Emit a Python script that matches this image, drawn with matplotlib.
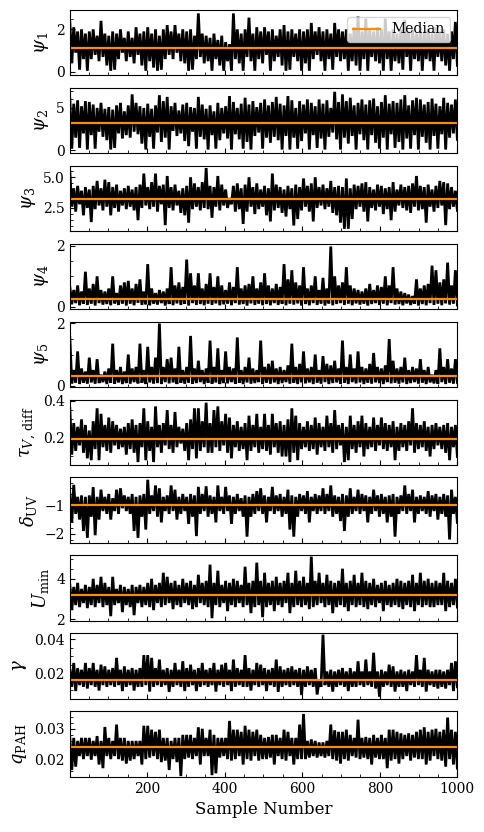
"""Trace plot of 1000 posterior samples for ten SED model parameters.

每个面板：黑色 = 采样链，橙色 = 中位数。
"""

import numpy as np
import matplotlib

matplotlib.use("Agg")
import matplotlib.pyplot as plt
from matplotlib.ticker import AutoMinorLocator

plt.rcParams["font.family"] = "serif"
plt.rcParams["font.serif"] = ["DejaVu Serif"]
plt.rcParams["mathtext.fontset"] = "dejavuserif"

# ---- data (chain values alternate upper / lower envelope) ----
psi1 = [
    2.35, 0.4, 2.1, 0.9, 1.9, 0.1, 2.0, 0.6, 1.8, 0.05,
    1.9, 0.6, 2.0, 0.8, 1.7, 0.5, 2.4, 0.7, 1.8, 0.3,
    1.7, 0.05, 1.9, 0.1, 1.8, 0.6, 2.0, 0.9, 1.6, 0.5,
    1.9, 0.7, 1.6, 0.4, 2.1, 0.8, 1.8, 0.3, 1.9, 0.05,
    2.1, 0.5, 1.8, 0.2, 2.0, 0.05, 1.7, 0.1, 2.0, 0.6,
    2.2, 0.8, 1.9, 0.6, 2.2, 0.9, 1.8, 0.5, 2.0, 0.4,
    1.9, 0.05, 2.0, 0.1, 1.7, 0.6, 2.75, 0.7, 1.8, 0.4,
    1.7, 0.5, 1.6, 0.05, 1.8, 0.6, 1.5, 0.3, 1.7, 0.05,
    1.4, 0.5, 1.3, 0.05, 2.75, 0.6, 2.0, 0.4, 1.8, 0.05,
    2.0, 0.7, 2.55, 0.5, 1.8, 0.05, 2.1, 0.6, 1.9, 0.4,
    2.1, 0.8, 1.9, 0.05, 2.0, 0.5, 1.7, 0.7, 2.0, 0.3,
    2.2, 0.05, 1.9, 0.1, 2.0, 0.7, 1.8, 0.5, 2.0, 0.05,
    1.9, 0.4, 2.0, 0.05, 2.3, 0.6, 1.9, 0.8, 2.1, 0.5,
    1.9, 0.05, 2.0, 0.6, 1.8, 0.1, 2.3, 0.7, 2.0, 0.5,
    1.9, 0.6, 2.0, 0.05, 1.8, 0.5, 2.1, 0.3, 2.6, 0.05,
    1.9, 0.6, 2.5, 0.05, 2.0, 0.7, 1.9, 0.5, 2.1, 0.4,
    2.0, 0.05, 2.5, 0.6, 1.9, 0.05, 2.0, 0.5, 1.8, 0.4,
    2.0, 0.1, 2.45, 0.7, 1.9, 0.05, 2.0, 0.6, 1.8, 0.5,
    2.1, 0.05, 1.9, 0.6, 2.0, 0.5, 1.8, 0.05, 2.1, 0.7,
    1.9, 0.5, 2.0, 0.3, 1.8, 0.05, 1.9, 0.6, 2.35, 0.3,
]
psi2 = [
    6.1, 0.2, 5.5, 1.5, 5.9, 0.3, 5.2, 2.0, 5.8, 0.1,
    5.7, 1.8, 5.4, 0.2, 5.0, 2.2, 5.6, 1.6, 4.9, 1.2,
    5.1, 0.1, 4.8, 0.3, 5.3, 2.0, 5.6, 1.4, 4.6, 1.8,
    5.3, 1.5, 6.6, 2.2, 5.6, 1.9, 5.2, 0.8, 5.0, 0.1,
    5.5, 1.6, 4.9, 0.2, 5.3, 2.1, 6.5, 1.0, 5.8, 1.5,
    6.3, 0.1, 5.2, 2.3, 5.6, 1.7, 4.7, 2.0, 5.4, 1.1,
    5.6, 0.5, 5.1, 2.2, 5.0, 0.2, 6.3, 1.6, 5.4, 1.3,
    4.9, 0.1, 5.3, 1.8, 4.6, 0.2, 5.6, 1.2, 5.0, 2.0,
    5.2, 1.4, 6.4, 0.1, 5.7, 1.9, 5.0, 1.3, 5.5, 0.2,
    6.2, 1.0, 5.4, 0.1, 5.8, 1.7, 5.1, 2.1, 5.6, 0.2,
    6.0, 1.5, 5.3, 0.9, 5.7, 1.6, 6.3, 1.2, 5.5, 0.1,
    5.3, 1.7, 6.4, 0.1, 5.9, 1.5, 5.0, 0.2, 5.8, 1.1,
    5.4, 2.0, 6.0, 0.1, 5.6, 1.8, 5.2, 0.3, 6.0, 1.4,
    5.5, 0.1, 5.9, 1.6, 5.0, 2.1, 6.9, 1.3, 5.7, 0.1,
    6.6, 1.5, 5.8, 0.8, 6.2, 1.7, 5.3, 0.1, 5.6, 1.9,
    6.0, 1.2, 5.4, 0.1, 5.9, 1.8, 6.1, 0.9, 5.2, 0.2,
    5.7, 1.5, 6.5, 0.1, 5.5, 1.9, 5.8, 0.3, 5.6, 1.0,
    6.0, 0.1, 6.5, 1.4, 5.3, 0.2, 5.9, 1.8, 6.2, 0.1,
    6.0, 1.6, 5.4, 0.9, 5.7, 0.1, 6.1, 1.7, 5.5, 0.2,
    5.2, 1.9, 6.2, 0.1, 5.6, 1.5, 5.4, 2.0, 6.0, 1.3,
]
psi3 = [
    5.45, 2.6, 4.1, 2.2, 4.3, 2.8, 3.9, 1.9, 4.2, 2.5,
    4.0, 1.35, 4.3, 2.4, 4.7, 2.7, 4.1, 2.3, 4.8, 2.6,
    4.6, 1.9, 4.2, 2.5, 4.4, 2.2, 3.9, 2.7, 4.1, 2.4,
    4.3, 2.6, 4.0, 2.3, 4.2, 1.5, 4.4, 2.5, 5.3, 2.7,
    4.2, 2.4, 4.6, 2.6, 5.3, 2.2, 4.3, 2.8, 4.4, 1.1,
    5.1, 2.5, 4.2, 2.3, 4.4, 2.7, 3.9, 2.1, 4.1, 1.9,
    4.3, 1.3, 5.0, 2.4, 4.5, 2.6, 4.2, 2.3, 4.6, 2.5,
    5.75, 2.4, 4.3, 1.7, 4.2, 2.6, 5.1, 2.3, 4.4, 2.7,
    4.0, 2.5, 3.3, 2.8, 4.3, 2.2, 4.5, 2.4, 4.1, 1.2,
    4.4, 2.2, 5.0, 2.6, 4.2, 2.0, 4.5, 2.4, 4.0, 2.6,
    4.3, 1.9, 4.1, 1.4, 5.3, 2.3, 4.4, 2.5, 4.2, 2.1,
    4.0, 1.8, 4.3, 2.4, 4.1, 1.07, 4.4, 1.6, 4.2, 2.3,
    4.9, 2.6, 4.3, 2.2, 4.5, 1.4, 5.0, 2.5, 4.2, 2.7,
    4.4, 2.4, 4.1, 2.6, 4.7, 2.1, 4.2, 1.9, 4.3, 1.3,
    4.2, 0.8, 4.9, 0.8, 4.1, 1.6, 4.4, 2.4, 4.3, 2.6,
    4.5, 2.2, 4.6, 1.4, 4.2, 2.5, 4.0, 2.3, 4.4, 2.6,
    4.3, 2.0, 4.1, 2.4, 4.2, 1.5, 4.6, 2.2, 4.0, 2.7,
    4.4, 2.5, 4.2, 2.3, 4.3, 2.1, 4.5, 2.6, 5.1, 2.3,
    4.3, 2.4, 4.2, 1.3, 4.4, 2.6, 4.0, 2.2, 4.3, 2.5,
    4.7, 2.7, 4.6, 1.1, 4.5, 2.4, 4.2, 2.6, 3.9, 2.3,
]
psi4 = [
    0.65, 0.08, 0.55, 0.12, 0.7, 0.05, 0.5, 0.1, 1.15, 0.06,
    0.6, 0.1, 0.75, 0.04, 1.0, 0.12, 0.55, 0.07, 0.5, 0.09,
    0.6, 0.05, 1.0, 0.11, 0.45, 0.06, 0.7, 0.1, 0.8, 0.04,
    0.85, 0.1, 0.6, 0.05, 0.75, 0.13, 0.9, 0.06, 0.5, 0.08,
    1.4, 0.05, 0.6, 0.1, 0.45, 0.07, 0.55, 0.12, 0.5, 0.04,
    0.6, 0.09, 1.3, 0.05, 0.7, 0.11, 0.8, 0.06, 0.65, 0.1,
    1.55, 0.04, 1.1, 0.12, 0.7, 0.06, 1.1, 0.09, 0.6, 0.05,
    0.75, 0.1, 1.1, 0.06, 0.65, 0.11, 1.0, 0.05, 0.7, 0.08,
    0.55, 0.1, 0.8, 0.05, 0.65, 0.12, 1.3, 0.07, 0.6, 0.09,
    0.7, 0.04, 0.75, 0.11, 1.0, 0.06, 0.6, 0.1, 0.8, 0.05,
    1.1, 0.09, 0.7, 0.05, 0.6, 0.12, 0.75, 0.06, 0.65, 0.1,
    1.4, 0.05, 0.9, 0.1, 1.2, 0.07, 0.8, 0.11, 0.7, 0.04,
    1.3, 0.09, 0.6, 0.05, 0.7, 0.12, 1.0, 0.06, 0.55, 0.1,
    0.95, 0.04, 0.6, 0.11, 1.98, 0.05, 1.0, 0.09, 0.7, 0.12,
    0.8, 0.06, 1.3, 0.1, 0.7, 0.05, 0.6, 0.11, 0.55, 0.07,
    0.5, 0.1, 0.6, 0.04, 0.75, 0.09, 0.55, 0.12, 0.7, 0.06,
    0.65, 0.1, 1.0, 0.05, 0.7, 0.12, 1.3, 0.07, 0.6, 0.09,
    0.5, 0.05, 0.45, 0.11, 0.4, 0.06, 0.35, 0.1, 0.9, 0.04,
    0.6, 0.09, 0.7, 0.05, 0.75, 0.12, 1.35, 0.06, 1.2, 0.1,
    0.8, 0.05, 0.9, 0.11, 1.45, 0.07, 0.7, 0.1, 1.2, 0.06,
]
psi5 = [
    1.55, 0.07, 0.5, 0.1, 1.1, 0.05, 0.55, 0.09, 0.45, 0.06,
    0.9, 0.1, 0.5, 0.06, 0.85, 0.08, 0.35, 0.11, 0.45, 0.05,
    0.55, 0.09, 1.35, 0.06, 0.5, 0.1, 0.6, 0.05, 0.45, 0.08,
    1.0, 0.06, 0.55, 0.11, 0.6, 0.07, 1.35, 0.09, 0.5, 0.05,
    1.25, 0.1, 0.6, 0.06, 0.9, 0.08, 2.0, 0.05, 0.6, 0.11,
    0.85, 0.07, 0.9, 0.1, 0.55, 0.05, 1.25, 0.09, 0.5, 0.06,
    0.6, 0.1, 1.6, 0.06, 0.55, 0.08, 0.8, 0.11, 0.5, 0.05,
    0.55, 0.09, 1.45, 0.06, 0.6, 0.1, 1.2, 0.05, 0.5, 0.08,
    1.1, 0.07, 0.6, 0.11, 0.55, 0.06, 1.55, 0.09, 0.5, 0.05,
    0.6, 0.1, 0.9, 0.06, 0.55, 0.08, 0.5, 0.11, 1.45, 0.05,
    0.6, 0.09, 0.7, 0.06, 0.8, 0.1, 0.55, 0.05, 0.6, 0.08,
    0.5, 0.11, 0.65, 0.06, 1.35, 0.09, 0.6, 0.05, 0.7, 0.1,
    1.1, 0.07, 0.55, 0.1, 0.6, 0.05, 1.0, 0.09, 0.5, 0.06,
    0.95, 0.11, 0.7, 0.05, 0.65, 0.08, 0.8, 0.1, 0.55, 0.06,
    1.45, 0.09, 0.6, 0.05, 1.0, 0.11, 0.55, 0.07, 1.1, 0.1,
    0.6, 0.05, 0.55, 0.09, 0.7, 0.06, 1.05, 0.1, 0.6, 0.08,
    0.55, 0.05, 0.65, 0.11, 1.5, 0.07, 0.8, 0.09, 0.55, 0.06,
    0.6, 0.1, 0.9, 0.05, 0.5, 0.08, 0.6, 0.11, 0.55, 0.06,
    0.85, 0.09, 0.5, 0.05, 0.6, 0.1, 0.35, 0.07, 0.5, 0.06,
    1.2, 0.11, 0.6, 0.05, 0.85, 0.09, 0.55, 0.06, 0.85, 0.1,
]
tau_v_diff = [
    0.36, 0.11, 0.28, 0.13, 0.26, 0.16, 0.30, 0.12, 0.27, 0.09,
    0.24, 0.08, 0.29, 0.14, 0.36, 0.08, 0.33, 0.15, 0.27, 0.13,
    0.31, 0.12, 0.29, 0.16, 0.27, 0.14, 0.25, 0.15, 0.26, 0.11,
    0.28, 0.14, 0.30, 0.12, 0.27, 0.07, 0.28, 0.15, 0.36, 0.08,
    0.29, 0.13, 0.26, 0.07, 0.37, 0.15, 0.27, 0.12, 0.28, 0.16,
    0.35, 0.14, 0.27, 0.12, 0.34, 0.15, 0.26, 0.17, 0.25, 0.13,
    0.28, 0.08, 0.30, 0.14, 0.36, 0.09, 0.36, 0.13, 0.29, 0.15,
    0.39, 0.12, 0.28, 0.12, 0.35, 0.15, 0.37, 0.13, 0.29, 0.16,
    0.33, 0.12, 0.31, 0.09, 0.27, 0.15, 0.29, 0.13, 0.26, 0.14,
    0.28, 0.08, 0.32, 0.13, 0.27, 0.15, 0.33, 0.12, 0.26, 0.14,
    0.33, 0.13, 0.27, 0.11, 0.33, 0.15, 0.28, 0.12, 0.29, 0.10,
    0.27, 0.10, 0.30, 0.07, 0.36, 0.12, 0.32, 0.08, 0.28, 0.14,
    0.26, 0.15, 0.29, 0.13, 0.27, 0.14, 0.31, 0.11, 0.28, 0.15,
    0.26, 0.13, 0.32, 0.15, 0.28, 0.12, 0.35, 0.14, 0.27, 0.16,
    0.28, 0.07, 0.26, 0.08, 0.32, 0.14, 0.27, 0.12, 0.29, 0.15,
    0.32, 0.10, 0.28, 0.14, 0.26, 0.15, 0.31, 0.13, 0.27, 0.16,
    0.31, 0.14, 0.28, 0.13, 0.27, 0.15, 0.29, 0.08, 0.26, 0.13,
    0.28, 0.15, 0.27, 0.13, 0.29, 0.16, 0.36, 0.12, 0.28, 0.14,
    0.27, 0.15, 0.29, 0.13, 0.26, 0.10, 0.27, 0.14, 0.28, 0.16,
    0.26, 0.14, 0.27, 0.12, 0.28, 0.08, 0.26, 0.15, 0.27, 0.10,
]
delta_uv = [
    -0.6, -1.6, -0.28, -1.3, -0.7, -1.5, -0.65, -1.9, -0.7, -2.14,
    -0.65, -1.4, -0.36, -2.05, -0.7, -1.5, -0.45, -1.2, -0.7, -1.3,
    -0.6, -1.5, -0.75, -1.2, -0.45, -1.3, -0.4, -1.1, -0.65, -1.2,
    -0.7, -1.3, -0.6, -1.9, -0.7, -2.14, -0.65, -1.4, -0.6, -1.85,
    -0.1, -1.3, -0.65, -1.2, -0.3, -1.4, -0.4, -1.6, -0.7, -1.2,
    -0.65, -1.3, -0.3, -1.2, -0.45, -1.5, -0.7, -1.3, -0.6, -1.2,
    -0.7, -1.65, -0.6, -1.4, -0.65, -2.08, -0.35, -1.3, -0.6, -1.2,
    -0.33, -1.4, -0.65, -1.3, -0.7, -1.6, -0.3, -1.2, -0.7, -1.3,
    -0.35, -1.2, -0.65, -1.65, -0.7, -1.3, -0.6, -1.2, -0.75, -1.4,
    -0.65, -2.1, -0.7, -1.4, -0.6, -1.3, -0.5, -1.2, -0.4, -1.3,
    -0.65, -1.6, -0.7, -1.2, -0.35, -1.3, -0.65, -1.2, -0.6, -1.4,
    -0.7, -1.3, -0.45, -1.85, -0.65, -2.1, -0.7, -1.4, -0.6, -1.2,
    -0.65, -1.3, -0.5, -1.6, -0.7, -1.2, -0.6, -1.3, -0.65, -1.2,
    -0.4, -1.3, -0.6, -1.2, -0.3, -1.4, -0.65, -1.3, -0.7, -1.55,
    -0.6, -1.9, -0.65, -1.4, -0.4, -1.3, -0.7, -1.2, -0.45, -1.3,
    -0.6, -1.2, -0.65, -1.6, -0.7, -1.3, -0.45, -1.2, -0.65, -1.4,
    -0.6, -1.3, -0.7, -1.6, -0.65, -1.4, -0.6, -2.1, -0.7, -1.3,
    -0.65, -1.2, -0.3, -1.3, -0.6, -1.2, -0.45, -1.6, -0.7, -1.3,
    -0.65, -1.2, -0.7, -1.3, -0.5, -1.4, -0.65, -1.2, -0.6, -1.5,
    -0.7, -1.3, -0.6, -1.4, -0.65, -2.2, -0.45, -1.3, -0.7, -1.6,
]
u_min = [
    3.7, 2.45, 3.6, 2.7, 3.8, 2.6, 3.5, 2.8, 3.7, 2.55,
    3.6, 2.7, 4.0, 2.6, 3.7, 2.8, 4.1, 2.6, 3.8, 2.7,
    3.6, 2.15, 4.1, 2.7, 3.5, 2.8, 3.7, 2.35, 3.6, 2.7,
    3.5, 2.6, 3.7, 2.2, 3.6, 2.8, 3.7, 2.6, 3.6, 2.7,
    3.8, 2.6, 4.0, 2.45, 3.7, 2.8, 3.8, 2.6, 4.3, 2.7,
    4.1, 2.8, 3.8, 2.5, 3.9, 2.7, 3.7, 2.6, 4.0, 2.8,
    3.8, 2.7, 3.9, 2.5, 3.7, 2.6, 4.2, 2.8, 3.8, 2.7,
    3.9, 2.6, 4.7, 2.05, 3.8, 2.7, 4.4, 2.6, 3.7, 2.8,
    3.9, 2.4, 3.8, 2.7, 4.0, 2.6, 3.9, 2.8, 3.7, 2.6,
    4.6, 2.7, 3.8, 2.3, 3.9, 2.6, 4.8, 2.7, 3.9, 2.1,
    4.3, 2.6, 3.8, 2.7, 3.9, 2.4, 4.1, 2.7, 3.8, 2.6,
    3.9, 2.8, 4.3, 2.3, 3.8, 2.6, 4.4, 2.7, 3.9, 2.6,
    4.1, 2.7, 3.8, 2.5, 5.1, 2.6, 3.9, 2.7, 4.3, 2.8,
    3.8, 2.6, 4.2, 2.7, 3.9, 2.3, 3.8, 2.6, 3.9, 2.7,
    4.5, 2.6, 3.8, 2.4, 3.9, 2.7, 4.2, 2.6, 3.8, 2.7,
    4.3, 2.6, 3.9, 2.5, 3.8, 2.7, 4.0, 2.6, 3.7, 2.8,
    3.8, 2.4, 3.9, 2.7, 3.7, 2.6, 3.8, 2.7, 4.0, 2.6,
    3.9, 2.5, 3.8, 2.7, 3.9, 2.6, 4.2, 2.4, 3.8, 2.7,
    4.3, 2.6, 3.9, 2.7, 4.0, 2.6, 3.8, 2.6, 3.9, 2.7,
    3.8, 2.7, 4.3, 2.4, 3.9, 2.6, 3.8, 2.7, 4.0, 2.6,
]
gamma = [
    0.022, 0.012, 0.026, 0.0095, 0.023, 0.013, 0.022, 0.012, 0.026, 0.011,
    0.023, 0.013, 0.026, 0.012, 0.022, 0.0098, 0.025, 0.013, 0.024, 0.012,
    0.022, 0.013, 0.023, 0.012, 0.029, 0.013, 0.022, 0.0095, 0.024, 0.012,
    0.022, 0.013, 0.023, 0.0098, 0.022, 0.012, 0.023, 0.012, 0.0306, 0.013,
    0.0306, 0.0092, 0.029, 0.012, 0.023, 0.013, 0.028, 0.012, 0.022, 0.013,
    0.023, 0.009, 0.022, 0.012, 0.026, 0.013, 0.022, 0.012, 0.027, 0.0095,
    0.023, 0.012, 0.025, 0.013, 0.022, 0.0095, 0.023, 0.012, 0.026, 0.013,
    0.022, 0.012, 0.023, 0.013, 0.026, 0.0092, 0.022, 0.013, 0.025, 0.012,
    0.026, 0.013, 0.022, 0.0095, 0.028, 0.012, 0.023, 0.013, 0.022, 0.012,
    0.0306, 0.012, 0.023, 0.0098, 0.022, 0.013, 0.026, 0.012, 0.025, 0.013,
    0.023, 0.0095, 0.022, 0.013, 0.023, 0.012, 0.028, 0.009, 0.024, 0.012,
    0.022, 0.013, 0.023, 0.012, 0.024, 0.013, 0.022, 0.012, 0.023, 0.0072,
    0.022, 0.012, 0.024, 0.013, 0.022, 0.012, 0.023, 0.0075, 0.016, 0.012,
    0.0426, 0.013, 0.021, 0.012, 0.022, 0.0092, 0.021, 0.012, 0.022, 0.013,
    0.023, 0.012, 0.021, 0.0095, 0.023, 0.012, 0.021, 0.012, 0.027, 0.013,
    0.021, 0.012, 0.028, 0.013, 0.021, 0.012, 0.032, 0.011, 0.021, 0.0062,
    0.022, 0.012, 0.021, 0.013, 0.025, 0.012, 0.024, 0.0092, 0.021, 0.012,
    0.022, 0.012, 0.021, 0.0095, 0.022, 0.013, 0.021, 0.012, 0.0306, 0.013,
    0.022, 0.012, 0.029, 0.0092, 0.022, 0.013, 0.021, 0.012, 0.022, 0.011,
    0.022, 0.012, 0.021, 0.011, 0.022, 0.013, 0.026, 0.0095, 0.027, 0.012,
]
q_pah = [
    0.027, 0.0164, 0.027, 0.0175, 0.026, 0.021, 0.027, 0.020, 0.027, 0.021,
    0.027, 0.0198, 0.026, 0.021, 0.0276, 0.0182, 0.026, 0.017, 0.0306, 0.021,
    0.027, 0.020, 0.026, 0.021, 0.0314, 0.020, 0.027, 0.0195, 0.027, 0.0185,
    0.026, 0.0195, 0.026, 0.020, 0.026, 0.021, 0.026, 0.0182, 0.031, 0.020,
    0.031, 0.0205, 0.0297, 0.021, 0.029, 0.020, 0.0297, 0.019, 0.027, 0.0195,
    0.027, 0.0164, 0.026, 0.020, 0.027, 0.019, 0.027, 0.0144, 0.028, 0.020,
    0.028, 0.0205, 0.028, 0.020, 0.027, 0.021, 0.0305, 0.0182, 0.030, 0.021,
    0.027, 0.021, 0.0297, 0.0147, 0.028, 0.0153, 0.027, 0.0205, 0.027, 0.021,
    0.027, 0.020, 0.0326, 0.0195, 0.0297, 0.020, 0.0297, 0.021, 0.029, 0.0182,
    0.031, 0.020, 0.0297, 0.0195, 0.029, 0.021, 0.0297, 0.0195, 0.028, 0.020,
    0.027, 0.020, 0.0273, 0.0205, 0.028, 0.0182, 0.028, 0.021, 0.027, 0.020,
    0.0297, 0.0195, 0.029, 0.021, 0.027, 0.0182, 0.027, 0.020, 0.0314, 0.020,
    0.0349, 0.020, 0.026, 0.0205, 0.0265, 0.021, 0.026, 0.0205, 0.0255, 0.021,
    0.0255, 0.0205, 0.026, 0.021, 0.0314, 0.020, 0.0295, 0.0195, 0.029, 0.0185,
    0.029, 0.020, 0.0297, 0.0195, 0.028, 0.021, 0.027, 0.0205, 0.033, 0.020,
    0.027, 0.0205, 0.0273, 0.020, 0.027, 0.0182, 0.028, 0.0205, 0.027, 0.020,
    0.028, 0.020, 0.027, 0.017, 0.0297, 0.0195, 0.0297, 0.020, 0.029, 0.0185,
    0.0285, 0.020, 0.028, 0.021, 0.0285, 0.0195, 0.028, 0.0205, 0.029, 0.020,
    0.0297, 0.020, 0.0305, 0.0182, 0.029, 0.0195, 0.0297, 0.021, 0.030, 0.020,
    0.029, 0.0195, 0.0297, 0.0175, 0.0337, 0.020, 0.0297, 0.0182, 0.029, 0.017,
]

chains = [psi1, psi2, psi3, psi4, psi5, tau_v_diff, delta_uv, u_min, gamma, q_pah]
param_labels = [
    r"$\psi_1$", r"$\psi_2$", r"$\psi_3$", r"$\psi_4$", r"$\psi_5$",
    r"$\tau_{V,\,\rm diff}$", r"$\delta_{\rm UV}$", r"$U_{\rm min}$",
    r"$\gamma$", r"$q_{\rm PAH}$",
]
medians = [1.13, 3.2, 3.24, 0.27, 0.30, 0.195, -0.98, 3.18, 0.0158, 0.0239]
ytick_vals = [
    [0, 2], [0, 5], [2.5, 5.0], [0, 2], [0, 2],
    [0.2, 0.4], [-2, -1], [2, 4], [0.02, 0.04], [0.02, 0.03],
]
y_ranges = [
    (-0.17, 2.91), (-0.35, 7.36), (0.6, 5.93), (-0.08, 2.07), (-0.05, 2.06),
    (0.054, 0.407), (-2.32, -0.02), (1.92, 5.16), (0.005, 0.0434), (0.0142, 0.0358),
]
n_samples = 1000


def main():
    fig, axes = plt.subplots(len(chains), 1, figsize=(4.85, 8.32), dpi=100, sharex=True)
    fig.subplots_adjust(left=0.144, right=0.943, top=0.988, bottom=0.0665, hspace=0.19)

    for i, ax in enumerate(axes):
        vals = chains[i]
        x = np.linspace(1, n_samples, len(vals))
        ax.plot(x, vals, color="black", lw=2.0, solid_joinstyle="bevel")
        ax.axhline(medians[i], color="darkorange", lw=1.6, label="Median")

        ax.set_ylabel(param_labels[i], fontsize=13)
        ax.set_ylim(*y_ranges[i])
        ax.set_yticks(ytick_vals[i])
        ax.yaxis.set_minor_locator(AutoMinorLocator())
        ax.xaxis.set_minor_locator(AutoMinorLocator())
        ax.tick_params(axis="both", which="both", direction="in",
                       top=False, right=False, labelsize=10)

    axes[0].legend(loc="upper right", fontsize=10)
    axes[-1].set_xlim(1, n_samples)
    axes[-1].set_xticks([200, 400, 600, 800, 1000])
    axes[-1].set_xlabel("Sample Number", fontsize=12)

    fig.savefig("out.png", dpi=100)
    plt.close(fig)


if __name__ == "__main__":
    main()
